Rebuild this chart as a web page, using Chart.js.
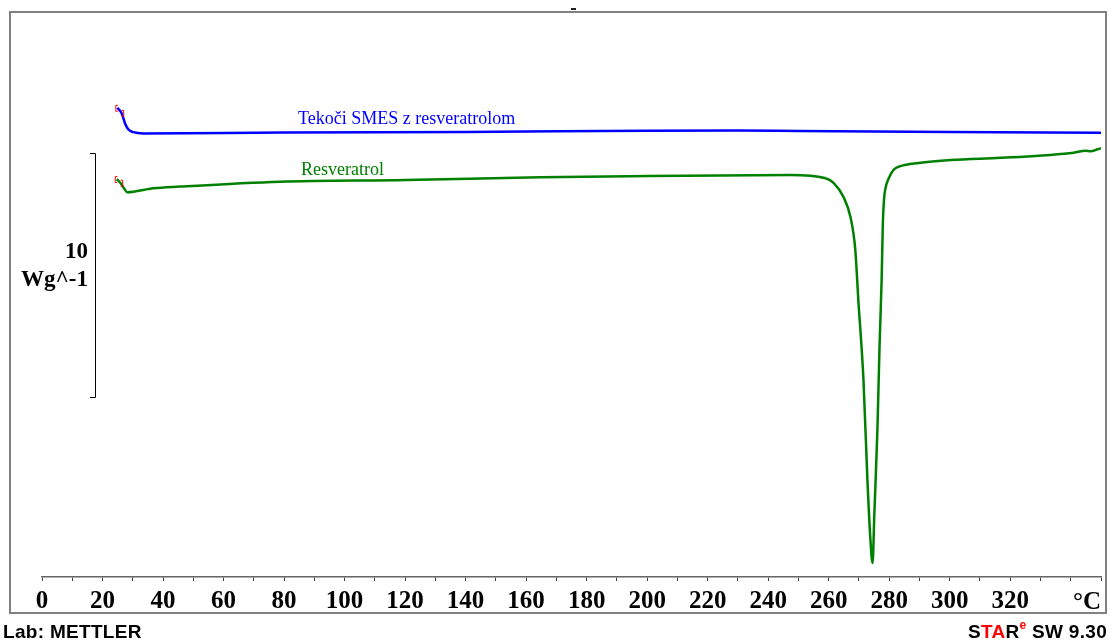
<!DOCTYPE html>
<html>
<head>
<meta charset="utf-8">
<title>DSC</title>
<script src="https://cdn.jsdelivr.net/npm/chart.js@4.4.1/dist/chart.umd.min.js"></script>
<style>
  html, body { margin: 0; padding: 0; background: #fff; }
  #dsc { display: block; }
</style>
</head>
<body>
<canvas id="dsc" width="1111" height="641"></canvas>
<script>
// Temperature (°C) and heat flow (W/g) for each run
const smesTemp = [24.9, 26.35, 27.45, 28.5, 30.2, 33.5, 80, 140, 200, 230, 250, 300, 350];
const smesHeatFlow = [19.23, 19.0, 18.59, 18.35, 18.23, 18.18, 18.22, 18.24, 18.29, 18.30, 18.28, 18.24, 18.21];

const resvTemp = [24.7, 26.0, 27.1, 28.2, 30.2, 36.8, 45.6, 78.7, 120, 164.7, 200, 247.4, 258.7, 261.6, 264.9, 267.2,
  268.8, 269.8, 271.5, 272.8, 273.8, 274.5, 275.1, 276.1, 276.8, 277.5, 277.9, 278.3, 278.9, 279.7, 281.4, 283.7,
  289.7, 300.3, 316.8, 333.3, 341.0, 344.9, 346.6, 348.9, 350];
const resvHeatFlow = [16.31, 16.14, 15.93, 15.77, 15.79, 15.93, 16.0, 16.2, 16.27, 16.38, 16.43, 16.48, 16.35, 16.15, 15.57, 14.75,
  13.4, 11.35, 8.07, 3.98, 1.52, 0.57, 2.62, 6.02, 9.43, 12.17, 14.5, 15.5, 16.0, 16.3, 16.68, 16.84,
  16.97, 17.09, 17.18, 17.30, 17.39, 17.47, 17.45, 17.53, 17.57];

// x axis: labelled ticks, unit at the end
const labelledTicks = [0, 20, 40, 60, 80, 100, 120, 140, 160, 180, 200, 220, 240, 260, 280, 300, 320];
const unitTick = 350;
const unitLabel = '°C';

// scale bar: 10 W/g
const barFrom = 7.38;
const barSpan = 10;

const tickFont = 'bold 25px "Liberation Serif"';

function toPoints(xs, ys) {
  return xs.map((t, i) => ({ x: t, y: ys[i] }));
}

const decorPlugin = {
  id: 'decor',
  afterDraw(chart) {
    const ctx = chart.ctx;
    const xs = chart.scales.x;
    const ys = chart.scales.y;
    ctx.save();

    // outer frame
    ctx.strokeStyle = '#808080';
    ctx.lineWidth = 2;
    ctx.strokeRect(10, 12, 1096, 601);
    ctx.fillStyle = '#222';
    ctx.fillRect(571, 8, 5, 2);

    // unit at the end of the temperature axis
    ctx.fillStyle = '#000';
    ctx.font = tickFont;
    ctx.textAlign = 'right';
    ctx.textBaseline = 'alphabetic';
    ctx.fillText(unitLabel, xs.getPixelForValue(unitTick), 609);

    // scale bar
    const top = Math.round(ys.getPixelForValue(barFrom + barSpan)) + 0.5;
    const bottom = Math.round(ys.getPixelForValue(barFrom)) + 0.5;
    ctx.strokeStyle = '#000';
    ctx.lineWidth = 1;
    ctx.beginPath();
    ctx.moveTo(90, top);
    ctx.lineTo(95.5, top);
    ctx.lineTo(95.5, bottom);
    ctx.lineTo(90, bottom);
    ctx.stroke();

    ctx.font = 'bold 23px "Liberation Serif"';
    ctx.fillText(String(barSpan), 88, 258);
    ctx.fillText('Wg^-1', 88, 286);

    // integration brackets at the start of each run
    chart.data.datasets.forEach(ds => {
      const p0 = ds.data[0];
      const p1 = ds.data[1];
      const ax = xs.getPixelForValue(p0.x);
      const ay = ys.getPixelForValue(p0.y);
      const bx = xs.getPixelForValue(p1.x);
      const by = ys.getPixelForValue(p1.y);
      ctx.strokeStyle = '#ff0000';
      ctx.lineWidth = 1;
      ctx.beginPath();
      ctx.moveTo(ax + 0.5, ay - 2.5);
      ctx.lineTo(ax - 1.5, ay - 2.5);
      ctx.lineTo(ax - 1.5, ay + 3.5);
      ctx.lineTo(ax + 0.5, ay + 3.5);
      ctx.moveTo(bx, by - 3);
      ctx.lineTo(bx + 2, by - 3);
      ctx.lineTo(bx + 2, by + 3);
      ctx.lineTo(bx, by + 3);
      ctx.stroke();
    });

    // curve names
    ctx.font = '18px "Liberation Serif"';
    ctx.textAlign = 'left';
    ctx.fillStyle = '#0000ff';
    ctx.fillText('Tekoči SMES z resveratrolom', xs.getPixelForValue(84.6), 124);
    ctx.fillStyle = '#008000';
    ctx.fillText('Resveratrol', xs.getPixelForValue(85.6), 175);

    // footer
    ctx.fillStyle = '#000';
    ctx.font = 'bold 19px "Liberation Sans"';
    ctx.letterSpacing = '0.3px';
    ctx.fillText('Lab: METTLER', 3, 638);

    ctx.textAlign = 'right';
    const tail = ' SW 9.30';
    let x = 1107;
    ctx.fillText(tail, x, 638);
    x -= ctx.measureText(tail).width;
    ctx.font = 'bold 12px "Liberation Sans"';
    ctx.fillStyle = '#ff0000';
    ctx.fillText('e', x, 629);
    x -= ctx.measureText('e').width;
    ctx.font = 'bold 19px "Liberation Sans"';
    const parts = [['R', '#000'], ['TA', '#ff0000'], ['S', '#000']];
    parts.forEach(([s, c]) => {
      ctx.fillStyle = c;
      ctx.fillText(s, x, 638);
      x -= ctx.measureText(s).width;
    });

    ctx.restore();
  }
};

function setupDscChart() {
  const ctx = document.getElementById('dsc').getContext('2d');
  new Chart(ctx, {
    type: 'line',
    data: {
      datasets: [
        {
          label: 'Tekoči SMES z resveratrolom',
          data: toPoints(smesTemp, smesHeatFlow),
          borderColor: '#0000ff',
          borderWidth: 2.5,
          pointRadius: 0,
          cubicInterpolationMode: 'monotone',
          fill: false
        },
        {
          label: 'Resveratrol',
          data: toPoints(resvTemp, resvHeatFlow),
          borderColor: '#008000',
          borderWidth: 2.5,
          pointRadius: 0,
          cubicInterpolationMode: 'monotone',
          fill: false
        }
      ]
    },
    options: {
      responsive: false,
      animation: false,
      devicePixelRatio: 1,
      layout: {
        padding: { left: 42, right: 10, top: 12, bottom: 0 }
      },
      scales: {
        x: {
          type: 'linear',
          min: 0,
          max: unitTick,
          afterFit(scale) {
            scale.height = 64;
            scale.paddingLeft = 0;
            scale.paddingRight = 0;
          },
          border: { display: true, color: '#666', width: 1.5 },
          grid: {
            drawOnChartArea: false,
            drawTicks: true,
            tickLength: 4,
            color: '#444'
          },
          ticks: {
            stepSize: 10,
            autoSkip: false,
            maxRotation: 0,
            padding: 6,
            color: '#000',
            font: { family: 'Liberation Serif', size: 25, weight: 'bold' },
            callback: (v) => (labelledTicks.includes(v) ? String(v) : '')
          }
        },
        y: {
          display: false,
          min: 0,
          max: 23.156
        }
      },
      plugins: {
        legend: { display: false },
        tooltip: { enabled: false }
      }
    },
    plugins: [decorPlugin]
  });
}

document.addEventListener('DOMContentLoaded', () => {
  setupDscChart();
});
</script>
</body>
</html>
